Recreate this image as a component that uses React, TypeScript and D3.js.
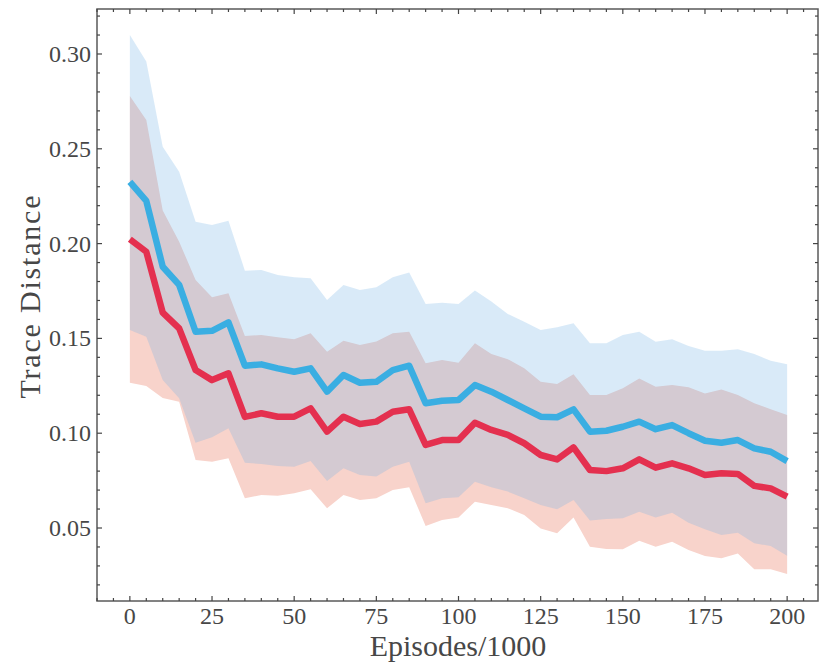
import React, { useEffect, useRef } from "react";
import * as d3 from "d3";

// episodes (in thousands)
const episodes = [0, 5, 10, 15, 20, 25, 30, 35, 40, 45, 50, 55, 60, 65, 70, 75, 80, 85, 90, 95, 100,
  105, 110, 115, 120, 125, 130, 135, 140, 145, 150, 155, 160, 165, 170, 175, 180, 185, 190, 195, 200];

const blueMean = [0.2325, 0.2225, 0.1878, 0.1782, 0.1535, 0.154, 0.1585, 0.1356, 0.1363, 0.1342, 0.1324, 0.1342, 0.1219,
  0.1307, 0.1266, 0.1271, 0.1333, 0.1356,
  0.1158, 0.1171, 0.1175, 0.1254, 0.1219, 0.1175, 0.1131, 0.1087, 0.1084, 0.1126,
  0.1008, 0.1013, 0.1034, 0.1061, 0.1021, 0.1043, 0.1, 0.096, 0.095, 0.0964, 0.092, 0.0902, 0.0853];
const blueUpper = [0.31, 0.296, 0.2511, 0.2379, 0.2115, 0.2098, 0.2121, 0.1857, 0.1861, 0.1834, 0.1822, 0.1817, 0.1703,
  0.1782, 0.1755, 0.177, 0.1822, 0.1847,
  0.1681, 0.1688, 0.1681, 0.1752, 0.1694, 0.1629, 0.1588, 0.1544, 0.1559, 0.158,
  0.1474, 0.1474, 0.1518, 0.1535, 0.1482, 0.1495, 0.146, 0.1435, 0.1435, 0.1443, 0.1418, 0.1382, 0.1363];
const blueLower = [0.1544, 0.1509, 0.128, 0.1184, 0.095, 0.0978, 0.1026, 0.0844, 0.0838, 0.0827, 0.0823, 0.0853, 0.0748,
  0.0815, 0.078, 0.0771, 0.0823, 0.085,
  0.063, 0.0657, 0.0662, 0.0744, 0.0715, 0.0692, 0.0657, 0.0621, 0.0599, 0.0648,
  0.0539, 0.0547, 0.0551, 0.0586, 0.0556, 0.0581, 0.0528, 0.0493, 0.0463, 0.0475, 0.0419, 0.0405, 0.0354];

const redMean = [0.2023, 0.1957, 0.1636, 0.1553, 0.1333, 0.128, 0.1316, 0.1086, 0.1105, 0.1087, 0.1087, 0.1131, 0.1008,
  0.1087, 0.1049, 0.1061, 0.1113, 0.1126,
  0.0938, 0.0964, 0.0964, 0.1055, 0.1017, 0.0991, 0.0947, 0.0885, 0.0862, 0.0925,
  0.0806, 0.08, 0.0815, 0.0862, 0.0818, 0.0841, 0.0815, 0.078, 0.0789, 0.0785, 0.0722, 0.0709, 0.0665];
const redUpper = [0.2778, 0.2652, 0.2174, 0.201, 0.1808, 0.1717, 0.1738, 0.1513, 0.1518, 0.1506, 0.1495, 0.1527, 0.143,
  0.1488, 0.1465, 0.1483, 0.1527, 0.1535,
  0.1369, 0.1386, 0.1372, 0.1474, 0.1418, 0.139, 0.1342, 0.1271, 0.126, 0.1311,
  0.1201, 0.1201, 0.1237, 0.1289, 0.1245, 0.1254, 0.1242, 0.121, 0.1231, 0.1201, 0.1158, 0.1126, 0.1096];
const redLower = [0.1266, 0.1249, 0.1186, 0.1166, 0.0859, 0.085, 0.0868, 0.0657, 0.0674, 0.067, 0.0683, 0.0704, 0.0604,
  0.0674, 0.0648, 0.0657, 0.07, 0.0715,
  0.0511, 0.0542, 0.0556, 0.0639, 0.0621, 0.0604, 0.0569, 0.0498, 0.0472, 0.0555,
  0.0401, 0.0389, 0.0388, 0.0433, 0.0401, 0.0428, 0.0384, 0.0352, 0.034, 0.0366, 0.0282, 0.0282, 0.0257];

const xTicks = [0, 25, 50, 75, 100, 125, 150, 175, 200];
const yTicks = [0.05, 0.1, 0.15, 0.2, 0.25, 0.3];

const FONT = "'Liberation Serif', 'DejaVu Serif', serif";
const TEXT = "#474747";
const AXIS = "#5a5a5a";

export default function App() {
  const ref = useRef<SVGSVGElement>(null);

  useEffect(() => {
    const svg = d3.select(ref.current);
    svg.selectAll("*").remove();

    const left = 97, right = 818, top = 9, bottom = 601;
    const x = d3.scaleLinear().domain([-10, 210]).range([97, 820]);
    const y = d3.scaleLinear().domain([0.0115, 0.32373]).range([bottom, top]);

    const idx = episodes.map((_, i) => i);

    const band = (up: number[], lo: number[]) =>
      d3.area<number>().x(i => x(episodes[i])).y0(i => y(lo[i])).y1(i => y(up[i]))(idx);
    const line = (m: number[]) =>
      d3.line<number>().x(i => x(episodes[i])).y(i => y(m[i]))(idx);

    const g = svg.append("g");

    // std bands: red first, translucent blue over it
    g.append("path").attr("d", band(redUpper, redLower)).attr("fill", "#f8d3cb");
    g.append("path").attr("d", band(blueUpper, blueLower))
      .attr("fill", "rgb(114,177,229)").attr("fill-opacity", 0.27);

    g.append("path").attr("d", line(blueMean)).attr("fill", "none")
      .attr("stroke", "#3aaee2").attr("stroke-width", 6.5).attr("stroke-linejoin", "round");
    g.append("path").attr("d", line(redMean)).attr("fill", "none")
      .attr("stroke", "#e4304f").attr("stroke-width", 6.5).attr("stroke-linejoin", "round");

    // frame
    g.append("rect").attr("x", left).attr("y", top).attr("width", right - left).attr("height", bottom - top)
      .attr("fill", "none").attr("stroke", AXIS).attr("stroke-width", 1.5);

    // ticks, inward on all four sides
    const xMinor = d3.range(-10, 211, 5);
    const yMinor = d3.range(0.02, 0.321, 0.01);
    const tk = g.append("g").attr("stroke", "#444").attr("stroke-width", 1.2);
    xMinor.forEach(v => {
      const len = xTicks.includes(v) ? 5 : 3;
      tk.append("line").attr("x1", x(v)).attr("x2", x(v)).attr("y1", bottom).attr("y2", bottom - len);
      tk.append("line").attr("x1", x(v)).attr("x2", x(v)).attr("y1", top).attr("y2", top + len);
    });
    yMinor.forEach(v => {
      const major = yTicks.some(t => Math.abs(t - v) < 1e-6);
      const len = major ? 5 : 3;
      tk.append("line").attr("x1", left).attr("x2", left + len).attr("y1", y(v)).attr("y2", y(v));
      tk.append("line").attr("x1", right).attr("x2", right - len).attr("y1", y(v)).attr("y2", y(v));
    });

    // tick labels
    g.selectAll(".xl").data(xTicks).join("text").attr("class", "xl")
      .attr("x", d => x(d)).attr("y", 624).attr("text-anchor", "middle")
      .attr("font-family", FONT).attr("font-size", 24).attr("fill", TEXT)
      .text(d => String(d));
    g.selectAll(".yl").data(yTicks).join("text").attr("class", "yl")
      .attr("x", 91).attr("y", d => y(d) + 8).attr("text-anchor", "end")
      .attr("font-family", FONT).attr("font-size", 24).attr("fill", TEXT)
      .text(d => d3.format(".2f")(d));

    // axis titles
    g.append("text").attr("x", 458).attr("y", 656).attr("text-anchor", "middle")
      .attr("font-family", FONT).attr("font-size", 30).attr("fill", TEXT)
      .text("Episodes/1000");
    g.append("text").attr("transform", "translate(40,297) rotate(-90)")
      .attr("text-anchor", "middle").attr("font-family", FONT).attr("font-size", 30).attr("fill", TEXT)
      .attr("textLength", 203).attr("lengthAdjust", "spacing")
      .text("Trace Distance");
  }, []);

  return (
    <svg ref={ref} width={819} height={662}
      style={{ position: "absolute", left: 0, top: 0, background: "#fff" }} />
  );
}
